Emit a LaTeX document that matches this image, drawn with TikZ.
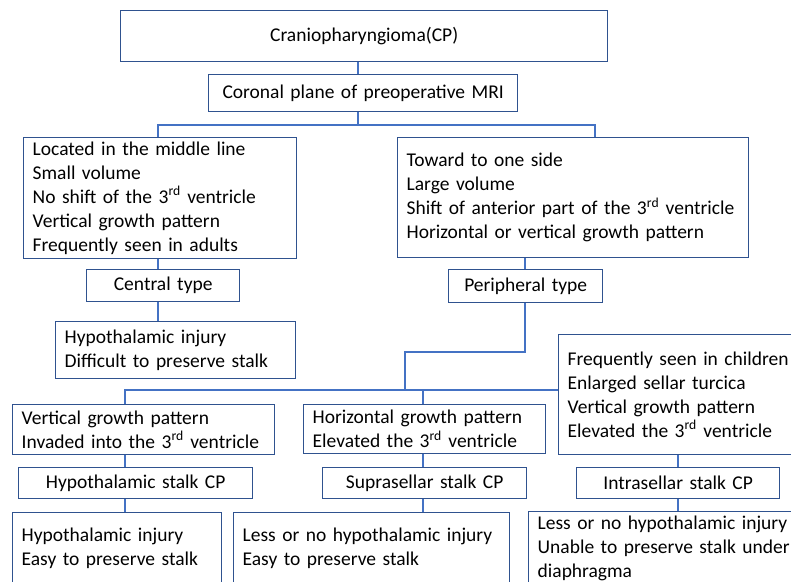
\documentclass[tikz,border=0pt]{standalone}
\usepackage{fontspec}
\setmainfont{Carlito}
\definecolor{boxblue}{RGB}{47,82,143}
\definecolor{linkblue}{RGB}{68,114,196}

\begin{document}
\begin{tikzpicture}[x=1pt,y=-1pt,
    box/.style={draw=boxblue,line width=1.4pt,anchor=north west,inner xsep=9pt,inner ysep=0pt,
      font=\fontsize{19.5}{24}\selectfont},
    lbox/.style={box,align=left},
    cbox/.style={box,align=center},
    link/.style={draw=linkblue,line width=1.4pt}]
  \useasboundingbox (0,0) rectangle (791,581);
  \clip (0,0) rectangle (791,581);

  \node[cbox,text width=469pt,minimum height=51pt] (cp) at (120,10) {Craniopharyngioma(CP)};
  \node[cbox,text width=291pt,minimum height=37pt] (mri) at (208,74) {Coronal plane of preoperative MRI};

  \node[lbox,text width=255pt,minimum height=121pt] (midline) at (23,137)
    {Located in the middle line\\Small volume\\No shift of the 3\textsuperscript{rd} ventricle\\Vertical growth pattern\\Frequently seen in adults};
  \node[lbox,text width=333pt,minimum height=120pt] (oneside) at (397,137)
    {Toward to one side\\Large volume\\Shift of anterior part of the 3\textsuperscript{rd} ventricle\\Horizontal or vertical growth pattern\\[6pt]};

  \node[cbox,text width=135pt,minimum height=32pt] (central) at (86,269) {Central type};
  \node[cbox,text width=136pt,minimum height=33pt] (peripheral) at (448,269) {Peripheral type};
  \node[lbox,text width=222pt,minimum height=57pt] (centralres) at (55,321)
    {Hypothalamic injury\\Difficult to preserve stalk};

  \node[lbox,text width=244pt,minimum height=50pt] (vertical) at (12,404)
    {Vertical growth pattern\\Invaded into the 3\textsuperscript{rd} ventricle};
  \node[lbox,text width=224pt,minimum height=49pt] (horizontal) at (303,404)
    {Horizontal growth pattern\\Elevated the 3\textsuperscript{rd} ventricle};
  \node[lbox,text width=262pt,minimum height=120pt] (children) at (558,334)
    {Frequently seen in children\\Enlarged sellar turcica\\Vertical growth pattern\\Elevated the 3\textsuperscript{rd} ventricle};

  \node[cbox,text width=216pt,minimum height=31pt] (hypostalk) at (18,467) {Hypothalamic stalk CP};
  \node[cbox,text width=186pt,minimum height=31pt] (suprastalk) at (322,467) {Suprasellar stalk CP};
  \node[cbox,text width=185pt,minimum height=31pt] (intrastalk) at (576,467) {Intrasellar stalk CP};

  \node[lbox,text width=191pt,minimum height=71pt] (hyporesult) at (12,512)
    {Hypothalamic injury\\Easy to preserve stalk};
  \node[lbox,text width=258pt,minimum height=71pt] (supraresult) at (233,512)
    {Less or no hypothalamic injury\\Easy to preserve stalk};
  \node[lbox,text width=262pt,minimum height=73pt] (intraresult) at (528,511)
    {Less or no hypothalamic injury\\Unable to preserve stalk under\\diaphragma};

  % connectors
  \coordinate (trunk) at (358,125);
  \coordinate (colL) at (158,125);
  \coordinate (colR) at (595,125);
  \coordinate (colP) at (525,352);
  \coordinate (elbow) at (405,352);
  \coordinate (branch) at (405,390);
  \coordinate (colA) at (125,390);
  \coordinate (colB) at (423,390);
  \coordinate (colC) at (678,390);

  \draw[link] (cp.south -| trunk) -- (mri.north -| trunk);
  \draw[link] (mri.south -| trunk) -- (trunk);
  \draw[link] (midline.north -| colL) |- (trunk) -| (oneside.north -| colR);
  \draw[link] (midline.south -| colL) -- (central.north -| colL);
  \draw[link] (central.south -| colL) -- (centralres.north -| colL);
  \draw[link] (oneside.south -| colP) -- (peripheral.north -| colP);
  \draw[link] (peripheral.south -| colP) -- (colP) -- (elbow) -- (branch);
  \draw[link] (vertical.north -| colA) -- (colA) -- (children.west |- colA);
  \draw[link] (horizontal.north -| colB) -- (colB);
  \draw[link] (vertical.south -| colA) -- (hypostalk.north -| colA);
  \draw[link] (hypostalk.south -| colA) -- (hyporesult.north -| colA);
  \draw[link] (horizontal.south -| colB) -- (suprastalk.north -| colB);
  \draw[link] (suprastalk.south -| colB) -- (supraresult.north -| colB);
  \draw[link] (children.south -| colC) -- (intrastalk.north -| colC);
  \draw[link] (intrastalk.south -| colC) -- (intraresult.north -| colC);
\end{tikzpicture}
\end{document}
